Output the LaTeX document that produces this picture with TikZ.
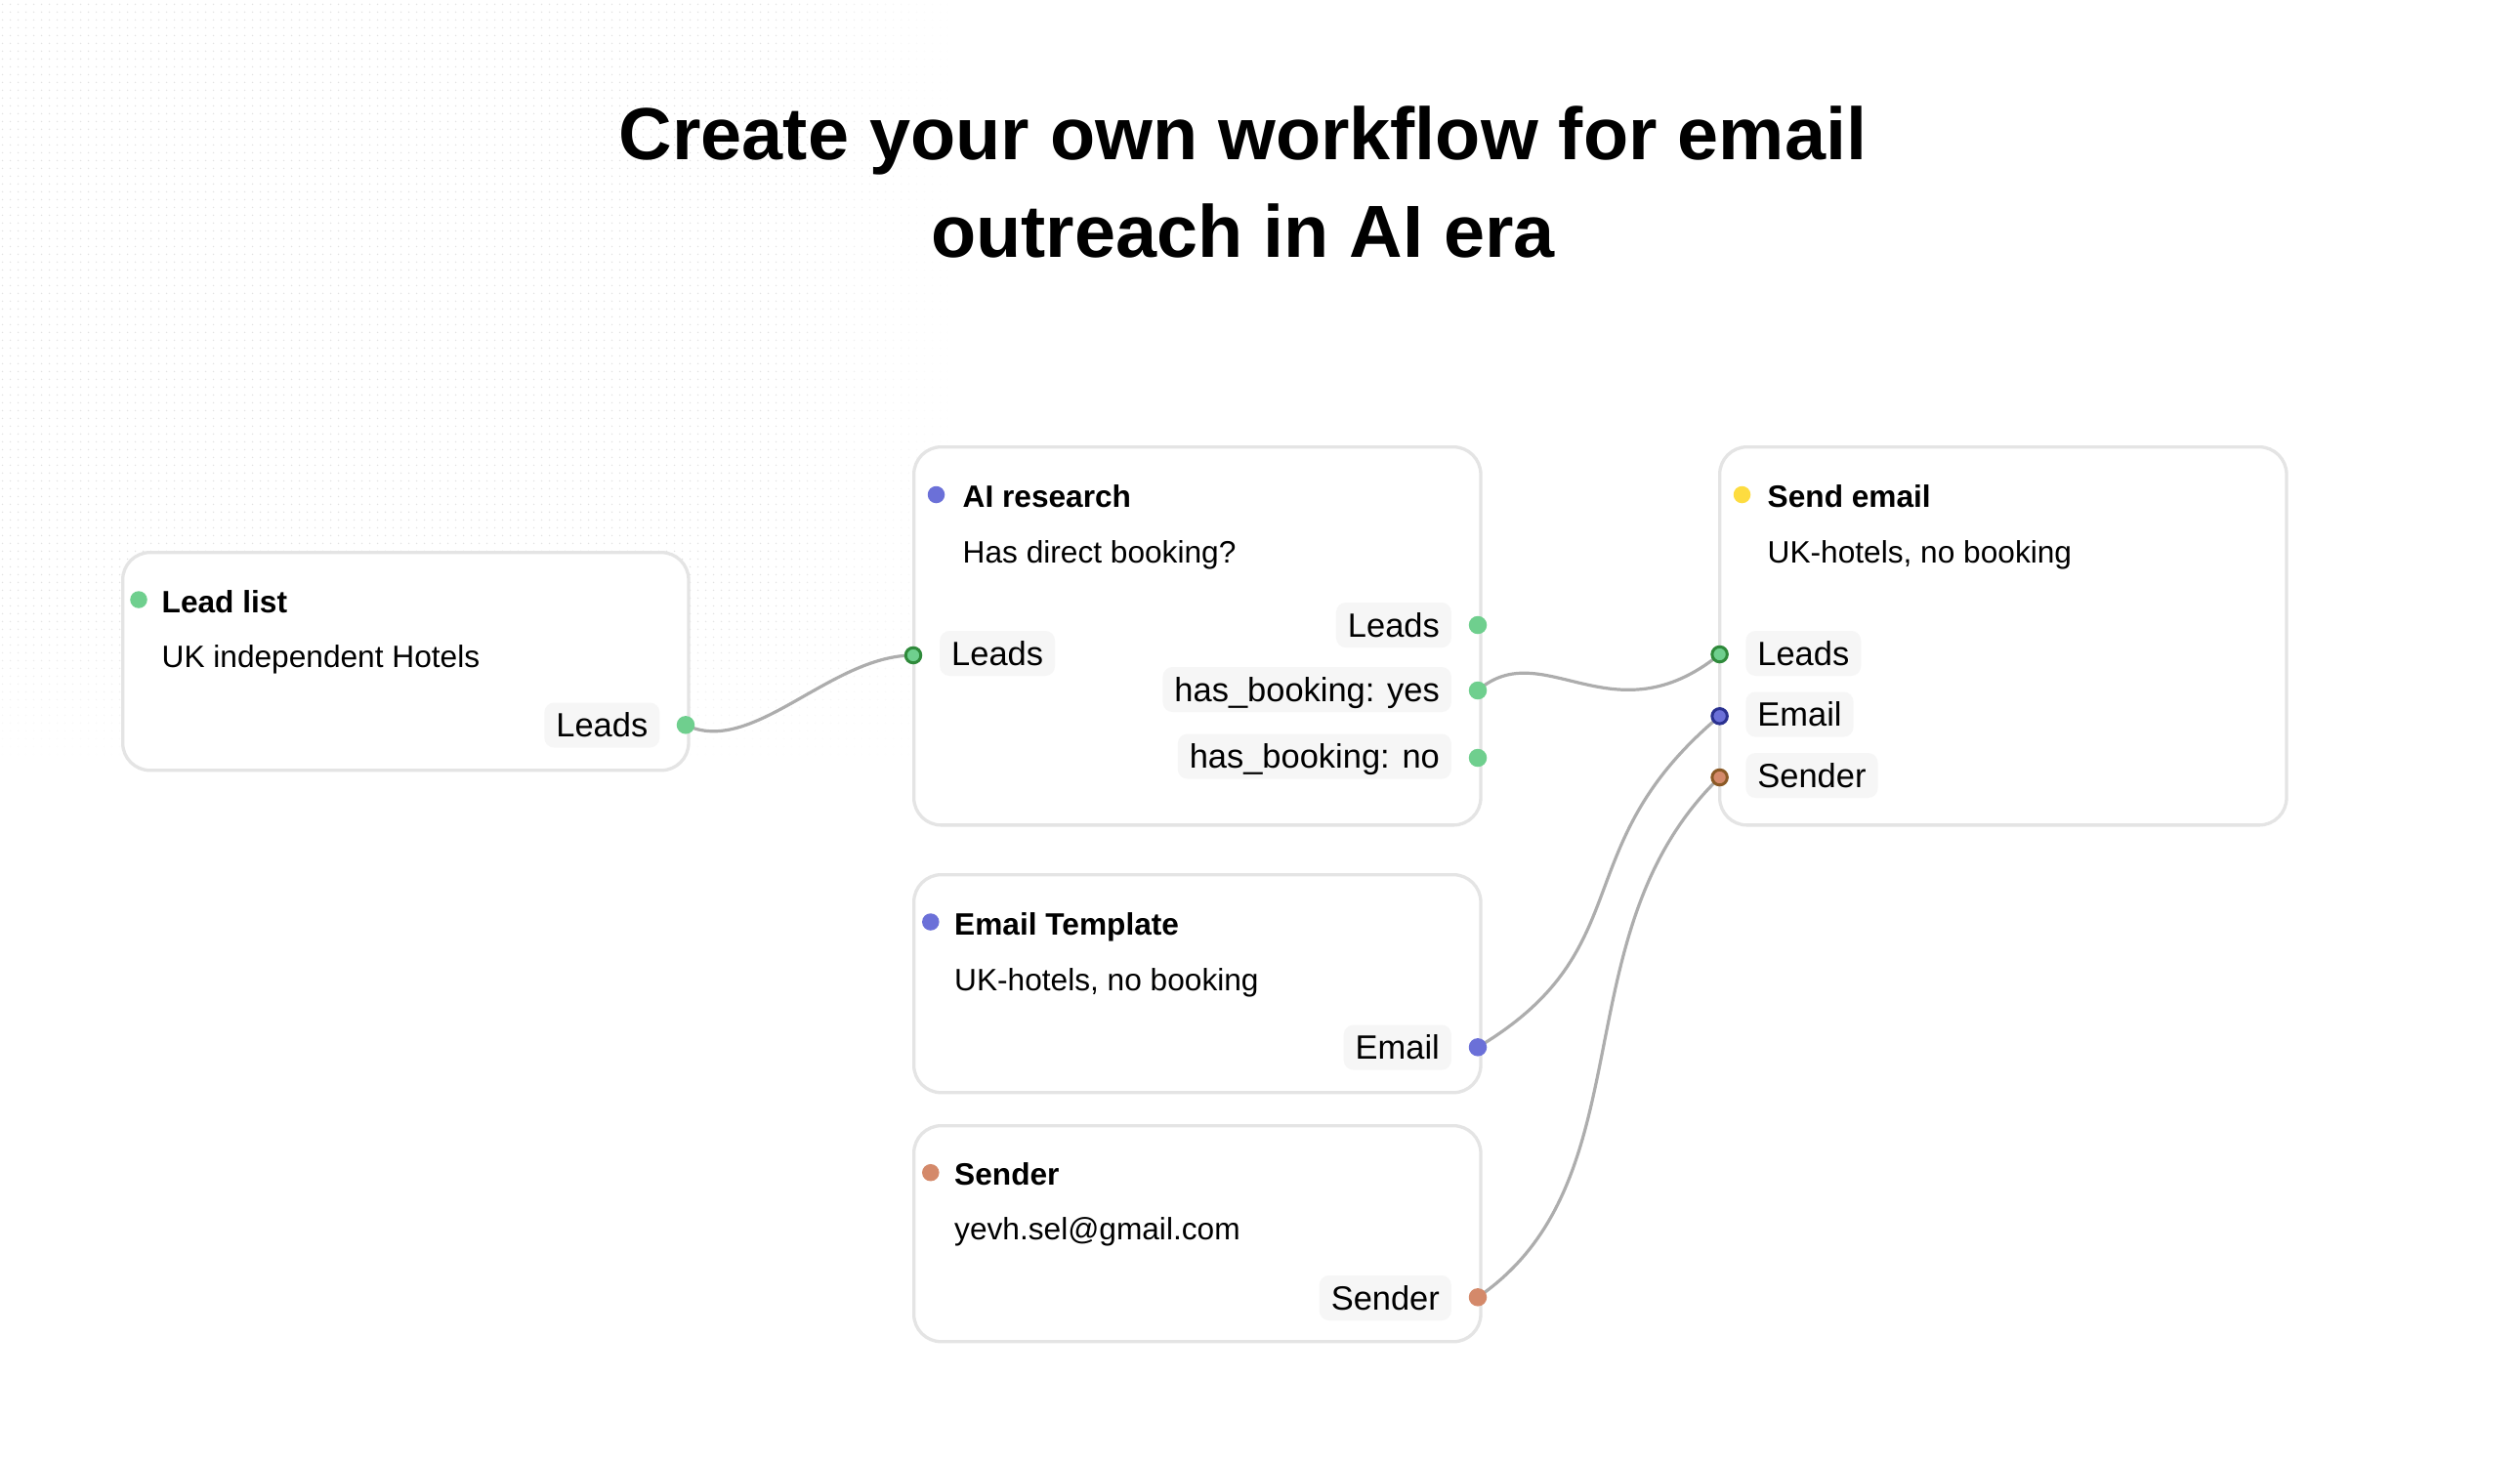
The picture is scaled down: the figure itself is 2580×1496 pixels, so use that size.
\documentclass[tikz,border=0pt]{standalone}
\usepackage{fontspec}
\setmainfont{Liberation Sans}
\usetikzlibrary{patterns.meta,fadings}

\definecolor{cgreen}{HTML}{6FCF8E}
\definecolor{cgreenD}{HTML}{2F8A3B}
\definecolor{cblue}{HTML}{6B70D8}
\definecolor{cblueD}{HTML}{2A3190}
\definecolor{cyellow}{HTML}{FDDC40}
\definecolor{corange}{HTML}{D4896A}
\definecolor{corangeD}{HTML}{8B5A26}
\definecolor{cborder}{HTML}{E4E4E4}
\definecolor{clabel}{HTML}{F6F6F6}
\definecolor{cedge}{HTML}{ADADAD}
\definecolor{cgrid}{HTML}{E2E2E2}

\pgfdeclarelayer{fg}
\pgfsetlayers{main,fg}

\tikzdeclarepattern{
  name=gridots,
  type=uncolored,
  bottom left={(0pt,0pt)},
  top right={(2.276pt,2.276pt)},
  tile size={(2.276pt,2.276pt)},
  code={\fill (1.138pt,1.138pt) circle (0.24pt);}
}
\tikzfading[name=fadeR, left color=transparent!100, right color=transparent!0]
\tikzfading[name=fadeB, top color=transparent!100, bottom color=transparent!0]

\begin{document}
\begin{tikzpicture}[x=0.01cm, y=-0.01cm,
  card/.style={draw=cborder, line width=0.033cm, rounded corners=0.28cm, fill=white,
    inner sep=0pt, anchor=north west},
  headline/.style={font=\bfseries\fontsize{21.5}{26}\selectfont, inner sep=0pt, anchor=base},
  ttl/.style={font=\bfseries\fontsize{9}{11}\selectfont, inner sep=0pt, anchor=base west},
  desc/.style={font=\fontsize{9}{11}\selectfont, inner sep=0pt, anchor=base west},
  tdot/.style={circle, inner sep=0pt, minimum size=0.175cm},
  plabel/.style={fill=clabel, rounded corners=0.1cm, minimum height=0.46cm,
    inner xsep=0.12cm, inner ysep=0pt, text height=7pt, text depth=0pt,
    font=\fontsize{9.8}{12}\selectfont},
  odot/.style={circle, inner sep=0pt, minimum size=0.185cm},
  idot/.style={circle, inner sep=0pt, minimum size=0.155cm, line width=0.03cm},
  edge/.style={draw=cedge, line width=0.032cm}
]
\useasboundingbox (0,0) rectangle (2580,1496);
\fill[white] (0,0) rectangle (2580,1496);

% faint dot grid, top left
\fill[pattern=gridots, pattern color=cgrid] (0,0) rectangle (970,775);
\fill[white, path fading=fadeR] (780,0) rectangle (971,776);
\fill[white, path fading=fadeB] (0,620) rectangle (971,776);

% headline
\node (h1) [headline] at (1272.5,163) {Create your own workflow for email};
\node (h2) [headline] at (1272.5,263) {outreach in AI era};

% cards
\node (lead)  [card, minimum width=5.79cm, minimum height=2.23cm] at (124,564) {};
\node (ai)    [card, minimum width=5.80cm, minimum height=3.87cm] at (934,456) {};
\node (send)  [card, minimum width=5.80cm, minimum height=3.87cm] at (1759,456) {};
\node (tmpl)  [card, minimum width=5.80cm, minimum height=2.23cm] at (934,894) {};
\node (sndr)  [card, minimum width=5.80cm, minimum height=2.21cm] at (934,1151) {};

% Lead list
\node (leadD) [tdot, fill=cgreen] at (142,614) {};
\node (leadT) [ttl] at (165,627) {Lead list};
\node (leadS) [desc] at (165,683) {UK independent Hotels};
\node (leadL) [plabel, anchor=east] at (676,742.5) {Leads};

% AI research
\node (aiD) [tdot, fill=cblue] at (958.5,506.5) {};
\node (aiT) [ttl] at (985,519) {AI research};
\node (aiS) [desc] at (985,576) {Has direct booking?};
\node (aiLi) [plabel, anchor=west] at (961.5,669) {Leads};
\node (aiLo) [plabel, anchor=east] at (1486.6,640) {Leads};
\node (aiLy) [plabel, anchor=east] at (1486.6,706) {has\_booking: yes};
\node (aiLn) [plabel, anchor=east] at (1486.6,774.5) {has\_booking: no};

% Send email
\node (sendD) [tdot, fill=cyellow] at (1783.5,506.5) {};
\node (sendT) [ttl] at (1809,519) {Send email};
\node (sendS) [desc] at (1809,576) {UK-hotels, no booking};
\node (sendLl) [plabel, anchor=west] at (1786.7,669) {Leads};
\node (sendLe) [plabel, anchor=west] at (1786.7,731.5) {Email};
\node (sendLs) [plabel, anchor=west] at (1786.7,794) {Sender};

% Email Template
\node (tmplD) [tdot, fill=cblue] at (952.8,944) {};
\node (tmplT) [ttl] at (976.5,957) {Email Template};
\node (tmplS) [desc] at (976.5,1014) {UK-hotels, no booking};
\node (tmplL) [plabel, anchor=east] at (1486.6,1072.5) {Email};

% Sender
\node (sndrD) [tdot, fill=corange] at (952.8,1200.7) {};
\node (sndrT) [ttl] at (976.5,1213.3) {Sender};
\node (sndrS) [desc] at (976.5,1269.3) {yevh.sel@gmail.com};
\node (sndrL) [plabel, anchor=east] at (1486.6,1329) {Sender};

% port dots (on top)
\begin{pgfonlayer}{fg}
\node (leadO) [odot, fill=cgreen] at (702,742.3) {};
\node (aiI)   [idot, fill=cgreen, draw=cgreenD] at (935,671) {};
\node (aiO)   [odot, fill=cgreen] at (1513,640) {};
\node (aiY)   [odot, fill=cgreen] at (1513,707) {};
\node (aiN)   [odot, fill=cgreen] at (1513,776) {};
\node (sendIl) [idot, fill=cgreen, draw=cgreenD] at (1760.6,670) {};
\node (sendIe) [idot, fill=cblue, draw=cblueD] at (1760.6,733.3) {};
\node (sendIs) [idot, fill=corange, draw=corangeD] at (1760.6,796) {};
\node (tmplO) [odot, fill=cblue] at (1513,1072.3) {};
\node (sndrO) [odot, fill=corange] at (1513,1328.3) {};
\end{pgfonlayer}

% connectors
\draw[edge] (leadO.center) .. controls +(68,33) and +(-85,0) .. (aiI.center);
\draw[edge] (aiY.center) .. controls +(67,-58) and +(-110,89) .. (sendIl.center);
\draw[edge] (tmplO.center) .. controls +(169,-101) and +(-160,134) .. (sendIe.center);
\draw[edge] (sndrO.center) .. controls +(175,-120) and +(-165,160) .. (sendIs.center);
\end{tikzpicture}
\end{document}
